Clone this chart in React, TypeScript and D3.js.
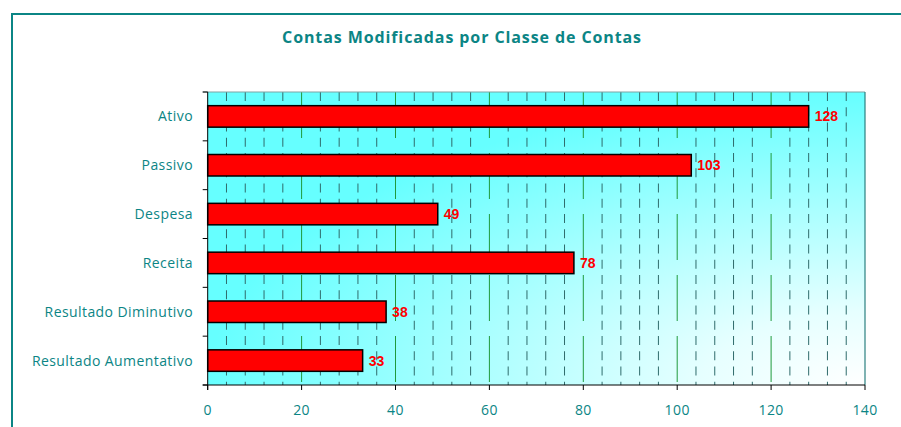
import React from "react";
import * as d3 from "d3";

const categories = ["Ativo", "Passivo", "Despesa", "Receita", "Resultado Diminutivo", "Resultado Aumentativo"];
const values = [128, 103, 49, 78, 38, 33];
const xTicks = [0, 20, 40, 60, 80, 100, 120, 140];
const title = "Contas Modificadas por Classe de Contas";

const W = 901;
const H = 427;
const plot = { left: 207.7, right: 865, top: 92, bottom: 385 };
const TEAL = "#0b8585";

export default function App() {
  const x = d3.scaleLinear().domain([0, 140]).range([plot.left, plot.right]);
  const y = d3.scaleBand<string>().domain(categories).range([plot.top, plot.bottom]).paddingInner(0.56).paddingOuter(0.28);
  const yCat = d3.scaleBand<string>().domain(categories).range([plot.top, plot.bottom]).padding(0);
  const minor = d3.range(4, 140, 4).filter((v) => v % 20 !== 0);
  const major = xTicks.filter((v) => v > 0 && v < 140);
  const catTicks = [...categories.map((c) => yCat(c) as number), plot.bottom];

  return (
    <svg width={W} height={H} style={{ position: "absolute", left: 0, top: 0, display: "block" }}>
      <defs>
        <radialGradient id="bg" cx="1" cy="1" r="1" fx="1" fy="1" gradientUnits="objectBoundingBox">
          <stop offset="0" stopColor="#ffffff" />
          <stop offset="0.25" stopColor="#e6ffff" />
          <stop offset="1" stopColor="#66ffff" />
        </radialGradient>
      </defs>
      <rect x={0} y={0} width={W} height={H} fill="#ffffff" />
      <rect x={12} y={14} width={1000} height={1000} fill="none" stroke={TEAL} strokeWidth={2} />
      <text x={462} y={43} textAnchor="middle" fontFamily="'Open Sans', sans-serif" fontWeight="bold" fontSize={16} letterSpacing={0.9} fill={TEAL}>
        {title}
      </text>
      <rect x={plot.left} y={plot.top} width={plot.right - plot.left} height={plot.bottom - plot.top} fill="url(#bg)" />
      {minor.map((v) => (
        <line key={"mi" + v} x1={x(v)} x2={x(v)} y1={plot.top} y2={plot.bottom} stroke="#2f6b6b" strokeWidth={1} strokeDasharray="9 6.25" />
      ))}
      {major.map((v) => (
        <line key={"ma" + v} x1={x(v)} x2={x(v)} y1={plot.top} y2={plot.bottom} stroke="#1f9a3c" strokeWidth={1} strokeDasharray="46 15" />
      ))}
      <line x1={plot.left - 5} x2={plot.right} y1={plot.top} y2={plot.top} stroke="#7fa3a3" strokeWidth={1} />
      <line x1={plot.right} x2={plot.right} y1={plot.top} y2={plot.bottom} stroke="#2a8080" strokeWidth={1.2} />
      {categories.map((c, i) => (
        <g key={c}>
          <rect x={x(0)} y={y(c)} width={x(values[i]) - x(0)} height={y.bandwidth()} fill="#ff0000" stroke="#000000" strokeWidth={1.5} />
          <text x={x(values[i]) + 6} y={(y(c) as number) + y.bandwidth() / 2 + 5} fontFamily="'Liberation Sans', Arial, sans-serif" fontWeight="bold" fontSize={14} fill="#ff0000">
            {values[i]}
          </text>
          <text x={193} y={(y(c) as number) + y.bandwidth() / 2 + 5} textAnchor="end" fontFamily="'Open Sans', sans-serif" fontSize={14} letterSpacing={0.42} fill={TEAL}>
            {c}
          </text>
        </g>
      ))}
      {catTicks.map((t, i) => (
        <line key={"ct" + i} x1={plot.left - 5} x2={plot.left} y1={t} y2={t} stroke="#000" strokeWidth={1} />
      ))}
      <line x1={plot.left} x2={plot.left} y1={plot.top} y2={plot.bottom + 5} stroke="#000" strokeWidth={1} />
      <line x1={plot.left - 5} x2={plot.right} y1={plot.bottom} y2={plot.bottom} stroke="#000" strokeWidth={1} />
      {xTicks.map((v) => (
        <g key={"xt" + v}>
          <line x1={x(v)} x2={x(v)} y1={plot.bottom} y2={plot.bottom + 5} stroke="#000" strokeWidth={1} />
          <text x={x(v)} y={415} textAnchor="middle" fontFamily="'Open Sans', sans-serif" fontSize={14} letterSpacing={0.4} fill={TEAL}>
            {v}
          </text>
        </g>
      ))}
    </svg>
  );
}
